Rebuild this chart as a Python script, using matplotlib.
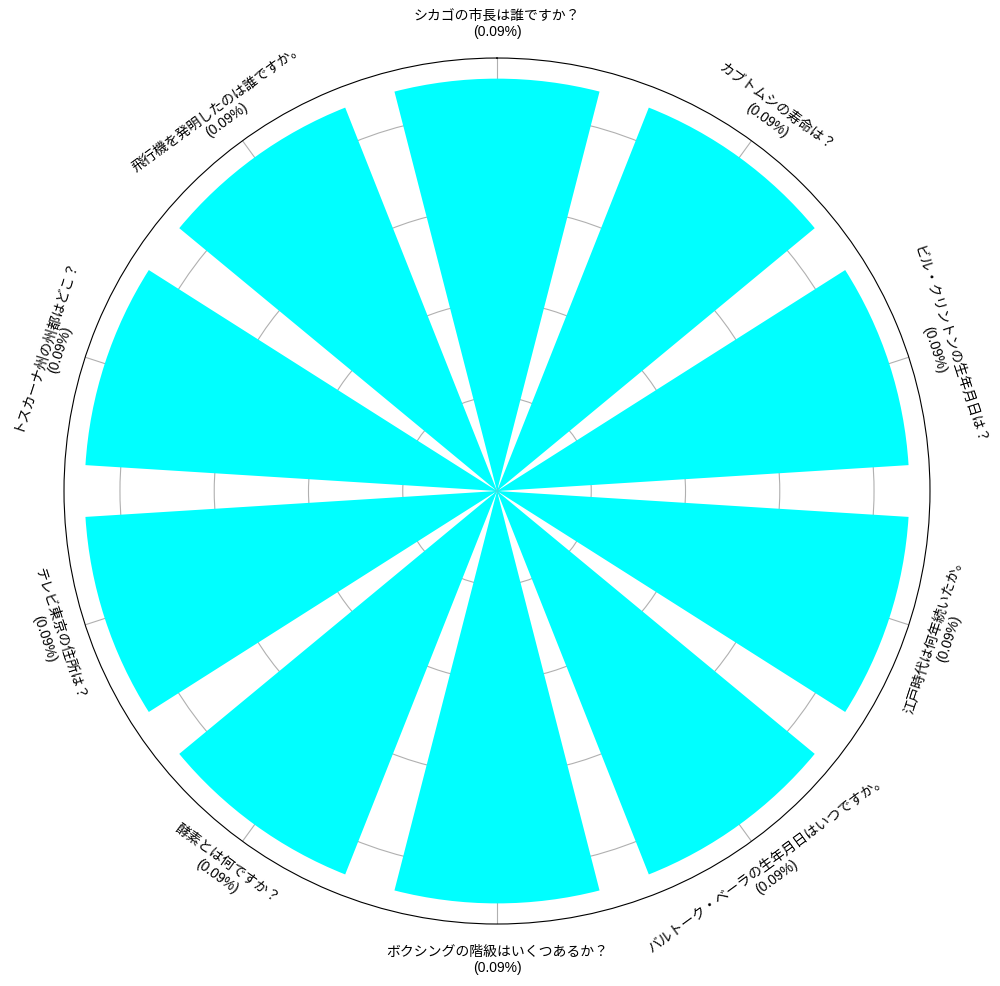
import numpy as np
import matplotlib
matplotlib.use("Agg")
import matplotlib.pyplot as plt

plt.rcParams['font.family'] = ['Liberation Sans', 'Noto Sans CJK JP', 'DejaVu Sans']

questions = [
    "シカゴの市長は誰ですか？",
    "カブトムシの寿命は？",
    "ビル・クリントンの生年月日は？",
    "江戸時代は何年続いたか。",
    "バルトーク・ベーラの生年月日はいつですか。",
    "ボクシングの階級はいくつあるか？",
    "酵素とは何ですか？",
    "テレビ東京の住所は？",
    "トスカーナ州の州都はどこ？",
    "飛行機を発明したのは誰ですか。",
]
shares = [0.0875, 0.0875, 0.0875, 0.0875, 0.0875,
          0.0875, 0.0875, 0.0875, 0.0875, 0.0875]

n = len(questions)
theta = np.arange(n) * 2 * np.pi / n
width = 0.8 * 2 * np.pi / n

fig = plt.figure(figsize=(10, 9.87), dpi=100)
ax = fig.add_axes([0.064, 0.0628, 0.866, 0.8774], projection='polar')
ax.set_theta_zero_location('N')
ax.set_theta_direction(-1)

ax.bar(theta, shares, width=width, color='#00ffff', edgecolor='none', zorder=2)
rmax = max(shares) * 1.05
ax.set_ylim(0, rmax)
ax.set_yticks([0.02, 0.04, 0.06, 0.08])
ax.set_yticklabels([])
ax.set_xticks(theta)
ax.set_xticklabels([])
ax.grid(True, color='#b0b0b0', linewidth=0.8, zorder=1)
ax.set_axisbelow(True)
ax.tick_params(axis='x', length=0)

for t, q, v in zip(theta, questions, shares):
    # math angle of the label position (clockwise from north)
    ang = 90 - np.degrees(t)
    rot = ang - 90
    while rot <= -90:
        rot += 180
    while rot > 90:
        rot -= 180
    ax.text(t, rmax * 1.08, f"{q}\n({v:.2f}%)", rotation=rot,
            rotation_mode='anchor', ha='center', va='center', fontsize=10)

fig.savefig('out.png', dpi=100)
